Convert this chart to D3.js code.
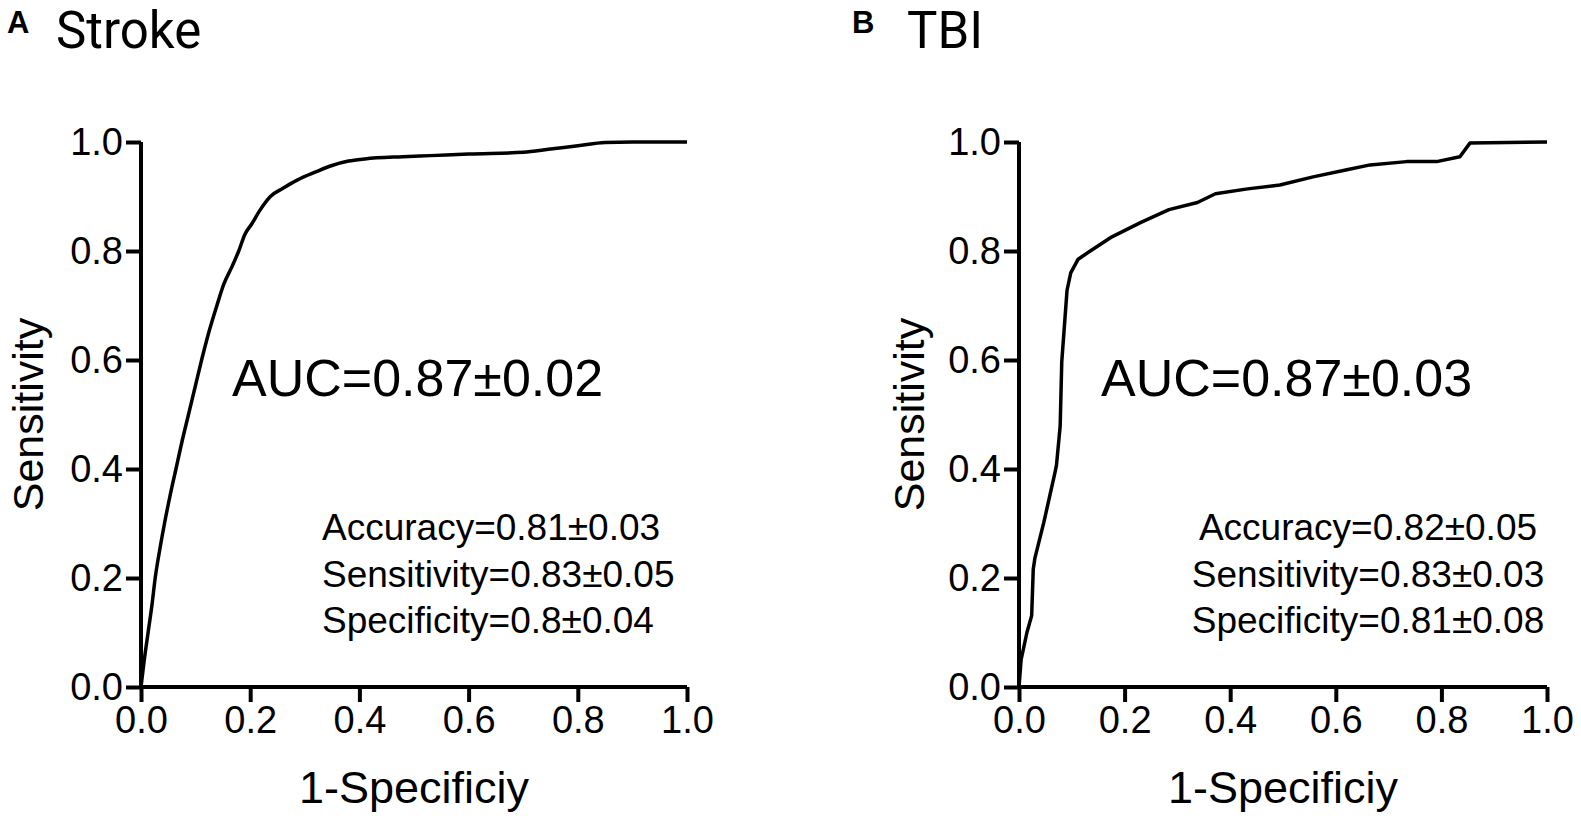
<!DOCTYPE html>
<html>
<head>
<meta charset="utf-8">
<script src="https://cdn.jsdelivr.net/npm/d3@7"></script>
<style>
  body { margin: 0; background: #fff; }
  text { fill: #000; }
</style>
</head>
<body>
<svg id="chart"></svg>
<script>
// Axis ticks (shared by both panels)
var ticks = [0, 0.2, 0.4, 0.6, 0.8, 1.0];

// Stroke ROC curve (1-specificity, sensitivity)
var strokeFpr = [0, 0.006, 0.013, 0.02, 0.026, 0.034, 0.043, 0.053, 0.064, 0.075, 0.087, 0.099, 0.111, 0.124, 0.139, 0.152, 0.166, 0.179, 0.19, 0.203, 0.218, 0.237, 0.26, 0.286, 0.32, 0.347, 0.38, 0.41, 0.48, 0.53, 0.6, 0.7, 0.75, 0.8, 0.85, 0.9, 1.0];
var strokeTpr = [0, 0.05, 0.1, 0.15, 0.2, 0.25, 0.3, 0.35, 0.4, 0.45, 0.5, 0.55, 0.6, 0.65, 0.7, 0.74, 0.77, 0.8, 0.83, 0.85, 0.875, 0.9, 0.915, 0.93, 0.945, 0.956, 0.965, 0.969, 0.973, 0.975, 0.978, 0.981, 0.987, 0.993, 0.999, 1.0, 1.0];

// TBI ROC curve
var tbiFpr = [0, 0.004, 0.015, 0.024, 0.027, 0.03, 0.047, 0.068, 0.071, 0.078, 0.081, 0.091, 0.098, 0.112, 0.135, 0.176, 0.23, 0.284, 0.338, 0.372, 0.433, 0.494, 0.557, 0.621, 0.665, 0.734, 0.791, 0.835, 0.854, 1.0];
var tbiTpr = [0, 0.05, 0.1, 0.131, 0.216, 0.236, 0.302, 0.393, 0.407, 0.479, 0.597, 0.728, 0.76, 0.785, 0.8, 0.826, 0.852, 0.876, 0.889, 0.905, 0.914, 0.921, 0.936, 0.949, 0.958, 0.964, 0.964, 0.973, 0.998, 1.0];

// Annotations
var strokeStats = ["Accuracy=0.81\u00b10.03", "Sensitivity=0.83\u00b10.05", "Specificity=0.8\u00b10.04"];
var tbiStats = ["Accuracy=0.82\u00b10.05", "Sensitivity=0.83\u00b10.03", "Specificity=0.81\u00b10.08"];

var width = 1581;
var height = 821;
var sans = "'Liberation Sans', Arial, sans-serif";

var svg = d3.select("#chart")
            .attr("width", width)
            .attr("height", height)
            .style("font-family", sans);

var panels = [
  { letter: "A", title: "Stroke", fpr: strokeFpr, tpr: strokeTpr, auc: "AUC=0.87\u00b10.02", stats: strokeStats,
    x0: 141, x1: 687, letterX: 7, titleX: 56, ylabX: 43, aucX: 232, statsX: 322, statsAnchor: "start",
    curve: d3.curveMonotoneX },
  { letter: "B", title: "TBI", fpr: tbiFpr, tpr: tbiTpr, auc: "AUC=0.87\u00b10.03", stats: tbiStats,
    x0: 1019, x1: 1547, letterX: 852, titleX: 907, ylabX: 924, aucX: 1101, statsX: 1368, statsAnchor: "middle",
    curve: d3.curveLinear }
];

panels.forEach(function(p) {
  var g = svg.append("g");

  var x = d3.scaleLinear().domain([0, 1]).range([p.x0, p.x1]);
  var y = d3.scaleLinear().domain([0, 1]).range([687, 142]);

  // Axes
  var xAxis = d3.axisBottom(x).tickValues(ticks).tickFormat(d3.format(".1f")).tickSize(15).tickPadding(4);
  var yAxis = d3.axisLeft(y).tickValues(ticks).tickFormat(d3.format(".1f")).tickSize(15).tickPadding(3);

  var gx = g.append("g").attr("transform", "translate(0," + y(0) + ")").call(xAxis);
  var gy = g.append("g").attr("transform", "translate(" + x(0) + ",0)").call(yAxis);

  [gx, gy].forEach(function(a) {
    a.select(".domain").attr("stroke", "#000").attr("stroke-width", 4);
    a.selectAll(".tick line").attr("stroke", "#000").attr("stroke-width", 4);
    a.selectAll(".tick text").attr("fill", "#000").style("font-size", "38px").style("font-family", sans);
  });
  // plain axis lines without the outer stubs
  gx.select(".domain").attr("d", "M" + x(0) + ",0H" + x(1));
  gy.select(".domain").attr("d", "M0," + y(0) + "V" + y(1));

  // ROC curve
  var pts = p.fpr.map(function(f, i) { return [f, p.tpr[i]]; });
  var line = d3.line()
    .curve(p.curve)
    .x(function(d) { return x(d[0]); })
    .y(function(d) { return y(d[1]); });
  g.append("path")
    .datum(pts)
    .attr("d", line)
    .attr("fill", "none")
    .attr("stroke", "#000")
    .attr("stroke-width", 3.5)
    .attr("stroke-linejoin", "round");

  // Axis titles
  g.append("text")
    .attr("x", (x(0) + x(1)) / 2)
    .attr("y", 803)
    .attr("text-anchor", "middle")
    .style("font-size", "45px")
    .text("1-Specificiy");

  g.append("text")
    .attr("transform", "translate(" + p.ylabX + "," + y(0.5) + ") rotate(-90)")
    .attr("text-anchor", "middle")
    .style("font-size", "43px")
    .text("Sensitivity");

  // Panel letter and title
  g.append("text")
    .attr("x", p.letterX)
    .attr("y", 33)
    .style("font-size", "31px")
    .style("font-weight", "bold")
    .text(p.letter);

  g.append("text")
    .attr("x", p.titleX)
    .attr("y", 48)
    .style("font-size", "51px")
    .style("font-family", "Roboto, sans-serif")
    .text(p.title);

  // AUC
  g.append("text")
    .attr("x", p.aucX)
    .attr("y", 396)
    .style("font-size", "52px")
    .text(p.auc);

  // Stats
  g.selectAll(".stat")
    .data(p.stats)
    .enter().append("text")
      .attr("class", "stat")
      .attr("x", p.statsX)
      .attr("y", function(d, i) { return 540 + i * 46.5; })
      .attr("text-anchor", p.statsAnchor)
      .style("font-size", "37px")
      .text(function(d) { return d; });
});
</script>
</body>
</html>
